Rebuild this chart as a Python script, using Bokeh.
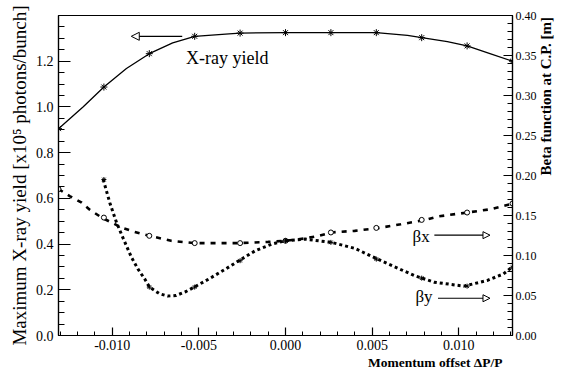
import math
from bokeh.plotting import figure
from bokeh.models import (Range1d, LinearAxis, SingleIntervalTicker, NumeralTickFormatter,
                          Label, Arrow, NormalHead, Title)
from bokeh.embed import file_html
from bokeh.resources import INLINE

# ---- data ----
x_marks = [-0.0131, -0.01048, -0.00786, -0.00524, -0.00262, 0.0, 0.00262, 0.00524, 0.00786, 0.01048, 0.0131]
xray_marks = [0.905, 1.087, 1.233, 1.309, 1.323, 1.325, 1.325, 1.325, 1.303, 1.267, 1.200]

xray_curve_x = [-0.0131, -0.01167, -0.01048, -0.00918, -0.00786, -0.00651, -0.00524, -0.00326, -0.00262,
                0.0, 0.00262, 0.00524, 0.00704, 0.00786, 0.00934, 0.01048, 0.0118, 0.0131]
xray_curve_y = [0.905, 1.001, 1.087, 1.168, 1.233, 1.280, 1.309, 1.320, 1.323,
                1.325, 1.325, 1.325, 1.313, 1.303, 1.286, 1.267, 1.233, 1.200]

betax_marks = [0.183, 0.1474, 0.1246, 0.1155, 0.1155, 0.1184, 0.1288, 0.1345, 0.1445, 0.1537, 0.165]
betax_curve_x = [-0.0131, -0.01243, -0.01176, -0.01128, -0.01061, -0.01004, -0.00947, -0.00870, -0.00785,
                 -0.0066, -0.00527, -0.0027, -0.0010, 0.0, 0.00113, 0.00191, 0.00264, 0.00399, 0.00542,
                 0.00665, 0.00808, 0.00877, 0.01048, 0.0118, 0.01294, 0.0131]
betax_curve_y = [0.183, 0.174, 0.166, 0.157, 0.1474, 0.1412, 0.135, 0.1295, 0.1246,
                 0.1184, 0.1155, 0.1155, 0.117, 0.1184, 0.1214, 0.1246, 0.1288, 0.1308, 0.1345,
                 0.139, 0.1445, 0.1487, 0.1537, 0.1577, 0.164, 0.165]

betay_mark_x = [-0.01048, -0.00786, -0.00524, -0.00262, 0.0, 0.00262, 0.00524, 0.00786, 0.01048, 0.0131]
betay_marks = [0.195, 0.0605, 0.0605, 0.0935, 0.1184, 0.1164, 0.0955, 0.0717, 0.0617, 0.0853]
betay_curve_x = [-0.01052, -0.01033, -0.01014, -0.00995, -0.00975, -0.00947, -0.00918, -0.00889, -0.00852,
                 -0.00813, -0.00785, -0.00727, -0.0068, -0.00632, -0.00574, -0.00527, -0.00441, -0.00345,
                 -0.00269, -0.00174, -0.00078, 0.0, 0.00113, 0.00265, 0.00399, 0.00552, 0.00743, 0.00857,
                 0.01029, 0.01163, 0.01258, 0.01306]
betay_curve_y = [0.195, 0.1805, 0.166, 0.1537, 0.1412, 0.1267, 0.1122, 0.0978, 0.0832,
                 0.0708, 0.0605, 0.0522, 0.0493, 0.050, 0.055, 0.0605, 0.0708, 0.0832,
                 0.0935, 0.106, 0.1143, 0.1184, 0.1205, 0.1164, 0.109, 0.0935, 0.0749, 0.0667,
                 0.0617, 0.0687, 0.077, 0.0853]

SERIF = "'Liberation Serif', 'Times New Roman', serif"

p = figure(width=564, height=369, output_backend="svg", toolbar_location=None,
           x_range=Range1d(-0.0131, 0.0131), y_range=Range1d(0, 1.4),
           min_border_left=58, min_border_right=48, min_border_top=15, min_border_bottom=32)
p.extra_y_ranges = {"beta": Range1d(0, 0.4)}
p.grid.visible = False
p.outline_line_color = "black"
p.outline_line_width = 1.2
p.background_fill_color = "white"
p.border_fill_color = "white"

# bottom axis
xa = p.xaxis[0]
xa.ticker = SingleIntervalTicker(interval=0.005, num_minor_ticks=5)
xa.formatter = NumeralTickFormatter(format="0.000")
# left axis
ya = p.yaxis[0]
ya.ticker = SingleIntervalTicker(interval=0.2, num_minor_ticks=4)
ya.formatter = NumeralTickFormatter(format="0.0")
# right axis
ra = LinearAxis(y_range_name="beta")
ra.ticker = SingleIntervalTicker(interval=0.05, num_minor_ticks=5)
ra.formatter = NumeralTickFormatter(format="0.00")
p.add_layout(ra, "right")

for ax, mj, mn in ((xa, 8, 4), (ya, 12, 6), (ra, 9, 5)):
    ax.major_tick_in = mj
    ax.major_tick_out = 0
    ax.minor_tick_in = mn
    ax.minor_tick_out = 0
    ax.axis_line_color = "black"
    ax.axis_line_width = 1.2
    ax.major_tick_line_width = 1.2
    ax.minor_tick_line_width = 1.0
    ax.major_label_text_font = SERIF
    ax.major_label_text_font_size = "14px"
    ax.major_label_text_color = "black"
    ax.major_label_standoff = 5
xa.major_label_standoff = 4
ra.major_label_standoff = 3
ra.major_label_text_font_size = "12px"

ya.axis_label = "Maximum X-ray yield [x10⁵ photons/bunch]"
ya.axis_label_text_font = SERIF
ya.axis_label_text_font_size = "19px"
ya.axis_label_text_font_style = "normal"
ya.axis_label_text_color = "black"
ya.axis_label_standoff = 3

# right axis title: reads bottom-to-top
ra.axis_label = "Beta function at C.P. [m]"
ra.axis_label_orientation = math.pi / 2
ra.axis_label_text_font = SERIF
ra.axis_label_text_font_size = "15px"
ra.axis_label_text_font_style = "bold"
ra.axis_label_text_color = "black"
ra.axis_label_text_line_height = 1.0
ra.axis_label_standoff = 6

# X-ray yield (left axis)
p.line(xray_curve_x, xray_curve_y, line_color="black", line_width=1.3)
p.scatter(x_marks, xray_marks, marker="asterisk", size=7, line_color="black", line_width=1)

# beta x (dashed, right axis)
p.line(betax_curve_x, betax_curve_y, y_range_name="beta", line_color="black", line_width=2.6,
       line_dash="5 6")
p.scatter(x_marks, betax_marks, y_range_name="beta", marker="circle", size=5,
          line_color="black", fill_color="white", line_width=1)

# beta y (dotted, right axis)
p.line(betay_curve_x, betay_curve_y, y_range_name="beta", line_color="black", line_width=3,
       line_dash="3 3")
p.scatter(betay_mark_x, betay_marks, y_range_name="beta", marker="asterisk", size=5,
          line_color="black", line_width=1)

# annotations
p.add_layout(Arrow(end=NormalHead(size=8, fill_color="white", line_color="black", line_width=1),
                   x_start=-0.00596, y_start=1.309, x_end=-0.0089, y_end=1.309,
                   line_color="black", line_width=1.2))
p.add_layout(Label(x=-0.00574, y=1.216, text="X-ray yield", text_font=SERIF,
                   text_font_size="18px", text_color="black", text_baseline="alphabetic"))

p.add_layout(Label(x=0.00733, y=0.432, text="βx", text_font=SERIF,
                   text_font_size="17px", text_color="black", text_baseline="alphabetic"))
p.add_layout(Arrow(end=NormalHead(size=7, fill_color="white", line_color="black", line_width=1),
                   x_start=0.00859, y_start=0.439, x_end=0.0118, y_end=0.439,
                   line_color="black", line_width=1.2))
p.add_layout(Label(x=0.0075, y=0.17, text="βy", text_font=SERIF,
                   text_font_size="17px", text_color="black", text_baseline="alphabetic"))
p.add_layout(Arrow(end=NormalHead(size=7, fill_color="white", line_color="black", line_width=1),
                   x_start=0.0088, y_start=0.163, x_end=0.0118, y_end=0.163,
                   line_color="black", line_width=1.2))

# bottom axis title, right aligned
p.add_layout(Title(text="Momentum offset ΔP/P", align="right", offset=10, standoff=0,
                   text_font=SERIF, text_font_size="13.5px", text_font_style="bold",
                   text_color="black"), "below")

open("out.html", "w").write(file_html(p, INLINE))
